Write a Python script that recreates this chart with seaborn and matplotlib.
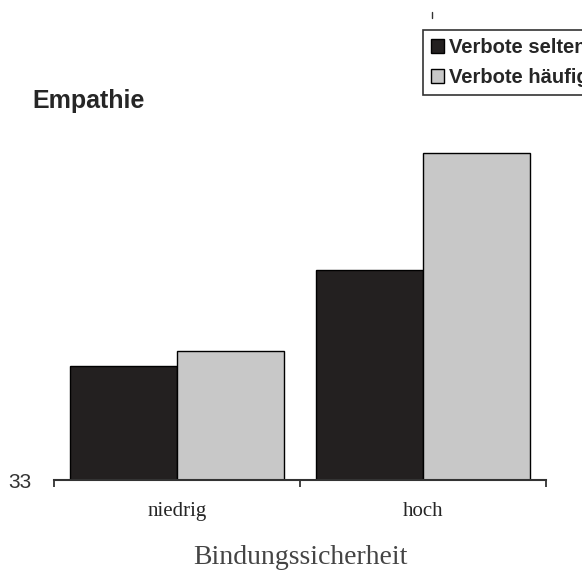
import matplotlib
matplotlib.use("Agg")
import matplotlib.pyplot as plt
from matplotlib.lines import Line2D
import pandas as pd
import seaborn as sns

# values (baseline of the axis is 33)
groups = ["niedrig", "hoch"]
series = ["Verbote selten", "Verbote häufig"]
verbote_selten = [34.14, 35.10]
verbote_haeufig = [34.29, 36.27]
colors = ["#231f20", "#c8c8c8"]

df = pd.DataFrame({
    "Bindungssicherheit": groups * 2,
    "Verbote": [series[0]] * 2 + [series[1]] * 2,
    "Empathie": verbote_selten + verbote_haeufig,
})

sns.set_style("white")
plt.rcParams["font.family"] = ["Liberation Sans", "DejaVu Sans"]

fig = plt.figure(figsize=(5.82, 5.74), dpi=100)
ax = fig.add_axes([54 / 582, 1 - 480 / 574, 492 / 582, 350 / 574])

sns.barplot(data=df, x="Bindungssicherheit", y="Empathie", hue="Verbote",
            order=groups, hue_order=series, palette=colors, width=0.87,
            gap=0, edgecolor="black", linewidth=1.0, ax=ax)

ax.set_ylim(33, 36.5)
ax.set_xlim(-0.5, 1.5)

# y axis: only the baseline value
for s in ["left", "top", "right"]:
    ax.spines[s].set_visible(False)
ax.spines["bottom"].set_color("#333333")
ax.spines["bottom"].set_linewidth(1.5)
ax.set_yticks([33])
ax.set_yticklabels(["33"], fontsize=15, color="#333333")
ax.tick_params(axis="y", length=0, pad=16)
ax.set_ylabel("")

# category labels between boundary ticks
ax.set_xticks([0, 1])
ax.set_xticklabels(groups, fontsize=15, family="Liberation Serif")
ax.set_xticks([-0.5, 0.5, 1.5], minor=True)
ax.tick_params(axis="x", which="major", length=0, pad=16)
ax.tick_params(axis="x", which="minor", length=5, width=1.3, color="#333333",
               direction="out", bottom=True)
ax.set_xlabel("Bindungssicherheit", fontsize=20, family="Liberation Serif",
              color="#444444", va="center")
ax.xaxis.set_label_coords(0.5, (480 - 557) / 350)

fig.text(32 / 582, 1 - 108 / 574, "Empathie", fontsize=18, fontweight="bold",
         va="baseline", ha="left")

handles, labels = ax.get_legend_handles_labels()
leg = ax.legend(handles, labels, loc="upper left",
                bbox_to_anchor=(423 / 582, 1 - 30 / 574),
                bbox_transform=fig.transFigure, frameon=True, fancybox=False,
                edgecolor="#333333", framealpha=1, borderpad=0.4,
                handlelength=0.65, handleheight=0.65, handletextpad=0.25,
                labelspacing=0.55, borderaxespad=0,
                prop={"size": 14.5, "weight": "bold"})
leg.get_frame().set_linewidth(1.2)

# small stray mark above the legend
fig.add_artist(Line2D([432 / 582, 432 / 582], [1 - 12 / 574, 1 - 18 / 574],
                      color="#333333", linewidth=1.0))

fig.savefig("out.png", dpi=100)
